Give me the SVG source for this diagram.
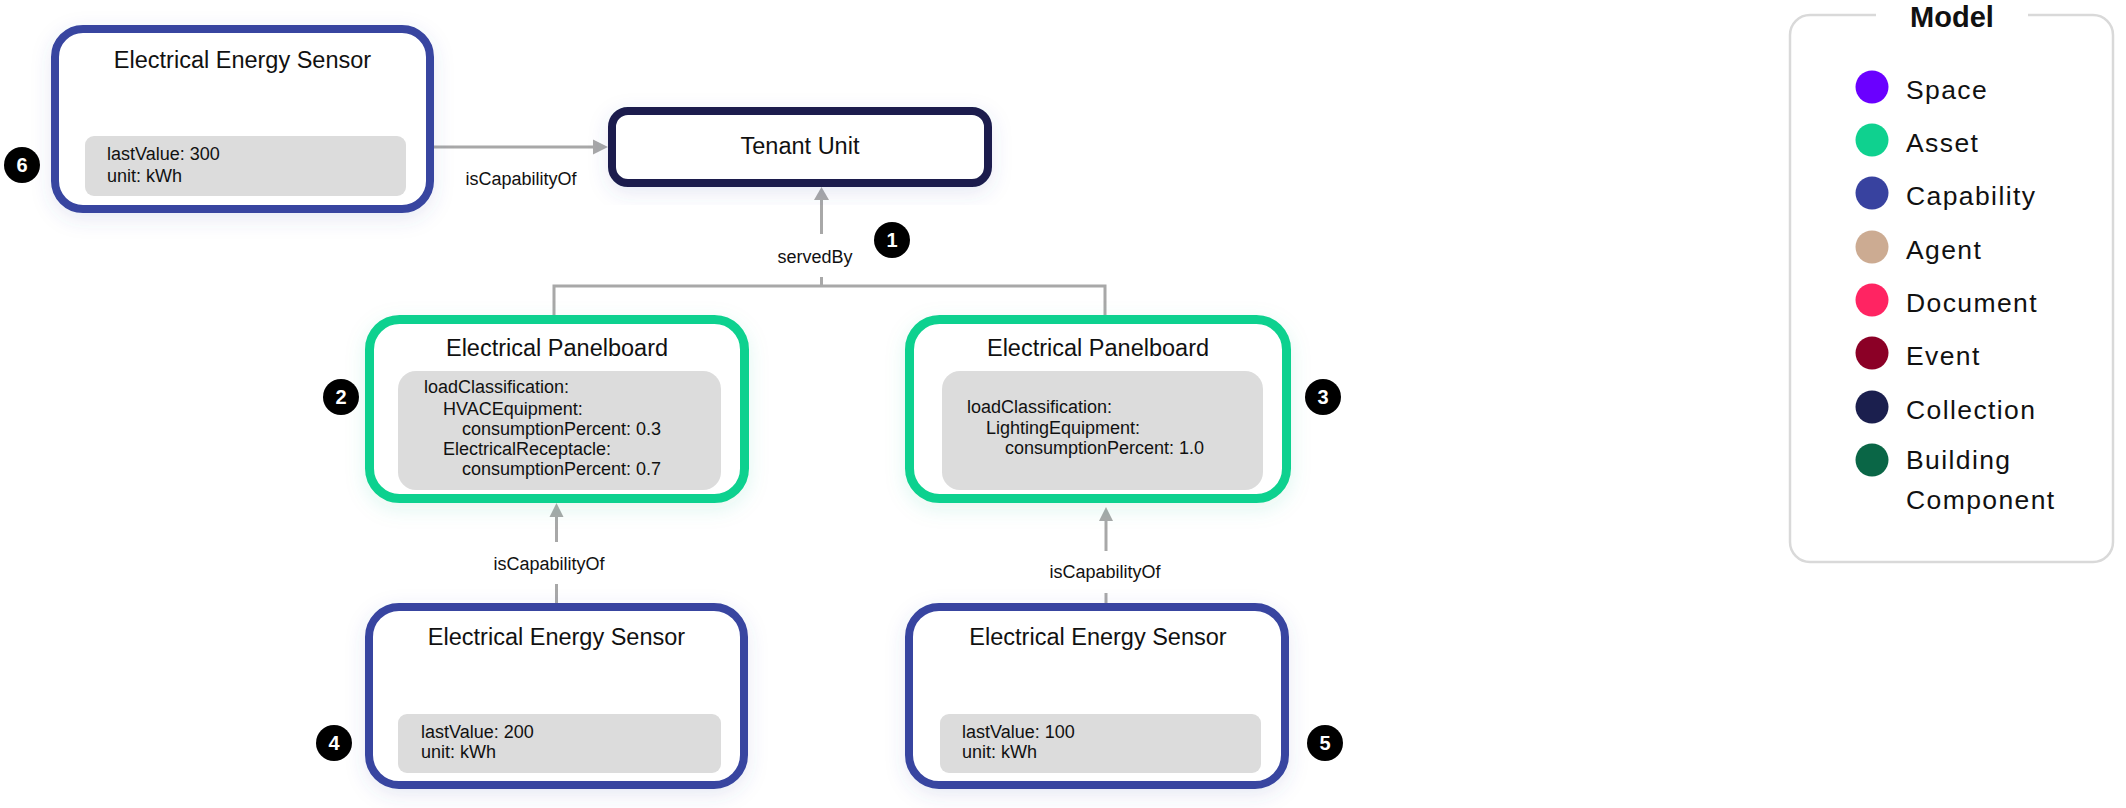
<svg xmlns="http://www.w3.org/2000/svg" width="2126" height="808" viewBox="0 0 2126 808">
<style>
  text { font-family: "Liberation Sans", Arial, sans-serif; fill: #111; }
  .title { font-size: 23.5px; text-anchor: middle; }
  .prop { font-size: 18px; }
  .lbl { font-size: 18px; text-anchor: middle; }
  .badge circle { fill: #000; }
  .badge text { fill: #fff; font-weight: bold; font-size: 20px; text-anchor: middle; }
  .cap { fill: #fff; stroke: #3845a0; stroke-width: 8; }
  .asset { fill: #fff; stroke: #0fd18f; stroke-width: 9; }
  .coll { fill: #fff; stroke: #1b1f4e; stroke-width: 8; }
  .box { fill: #dcdcdc; }
  .conn { stroke: #a8a8a8; stroke-width: 3; fill: none; }
  .head { fill: #a8a8a8; }
  .leg { font-size: 26.5px; letter-spacing: 1.4px; }
</style>
<defs>
  <filter id="shB" x="-20%" y="-30%" width="140%" height="160%">
    <feDropShadow dx="0" dy="6" stdDeviation="10" flood-color="#4050a8" flood-opacity="0.13"/>
  </filter>
  <filter id="shG" x="-20%" y="-30%" width="140%" height="160%">
    <feDropShadow dx="0" dy="6" stdDeviation="10" flood-color="#20c090" flood-opacity="0.13"/>
  </filter>
</defs>
<rect width="2126" height="808" fill="#fff"/>

<g id="connectors">
  <!-- node6 -> tenant -->
  <line class="conn" x1="434" y1="147" x2="594" y2="147"/>
  <polygon class="head" points="593,139.5 608,147 593,154.5"/>
  <text class="lbl" x="521" y="185">isCapabilityOf</text>
  <!-- servedBy -->
  <path class="conn" d="M554,315 V286 H1105 V315"/>
  <line class="conn" x1="821.5" y1="286" x2="821.5" y2="277"/>
  <line class="conn" x1="821.5" y1="234" x2="821.5" y2="199"/>
  <polygon class="head" points="814,200 821.5,187 829,200"/>
  <text class="lbl" x="815" y="263">servedBy</text>
  <!-- sensor4 -> panel1 -->
  <line class="conn" x1="556.5" y1="607" x2="556.5" y2="584"/>
  <line class="conn" x1="556.5" y1="542" x2="556.5" y2="516"/>
  <polygon class="head" points="549.5,517 556.5,503 563.5,517"/>
  <text class="lbl" x="549" y="570">isCapabilityOf</text>
  <!-- sensor5 -> panel2 -->
  <line class="conn" x1="1106" y1="607" x2="1106" y2="593"/>
  <line class="conn" x1="1106" y1="551" x2="1106" y2="520"/>
  <polygon class="head" points="1099,521 1106,507 1113,521"/>
  <text class="lbl" x="1105" y="578">isCapabilityOf</text>
</g>

<g id="node6">
  <rect class="cap" x="55" y="29" width="375" height="180" rx="28" filter="url(#shB)"/>
  <text class="title" x="242.5" y="68">Electrical Energy Sensor</text>
  <rect class="box" x="85" y="136" width="321" height="60" rx="9"/>
  <text class="prop" x="107" y="160">lastValue: 300</text>
  <text class="prop" x="107" y="182">unit: kWh</text>
</g>

<g id="tenant">
  <rect class="coll" x="612" y="111" width="376" height="72" rx="16" filter="url(#shB)"/>
  <text class="title" x="800" y="154">Tenant Unit</text>
</g>

<g id="panel1">
  <rect class="asset" x="369.5" y="319.5" width="375" height="179" rx="30" filter="url(#shG)"/>
  <text class="title" x="557" y="356">Electrical Panelboard</text>
  <rect class="box" x="398" y="371" width="323" height="119" rx="18"/>
  <text class="prop" x="424" y="393">loadClassification:</text>
  <text class="prop" x="443" y="415">HVACEquipment:</text>
  <text class="prop" x="462" y="435">consumptionPercent: 0.3</text>
  <text class="prop" x="443" y="455">ElectricalReceptacle:</text>
  <text class="prop" x="462" y="475">consumptionPercent: 0.7</text>
</g>

<g id="panel2">
  <rect class="asset" x="909.5" y="319.5" width="377" height="179" rx="30" filter="url(#shG)"/>
  <text class="title" x="1098" y="356">Electrical Panelboard</text>
  <rect class="box" x="942" y="371" width="321" height="119" rx="18"/>
  <text class="prop" x="967" y="413">loadClassification:</text>
  <text class="prop" x="986" y="434">LightingEquipment:</text>
  <text class="prop" x="1005" y="454">consumptionPercent: 1.0</text>
</g>

<g id="sensor4">
  <rect class="cap" x="369" y="607" width="375" height="178" rx="30" filter="url(#shB)"/>
  <text class="title" x="556.5" y="645">Electrical Energy Sensor</text>
  <rect class="box" x="398" y="714" width="323" height="59" rx="9"/>
  <text class="prop" x="421" y="738">lastValue: 200</text>
  <text class="prop" x="421" y="758">unit: kWh</text>
</g>

<g id="sensor5">
  <rect class="cap" x="909" y="607" width="376" height="178" rx="30" filter="url(#shB)"/>
  <text class="title" x="1098" y="645">Electrical Energy Sensor</text>
  <rect class="box" x="940" y="714" width="321" height="59" rx="9"/>
  <text class="prop" x="962" y="738">lastValue: 100</text>
  <text class="prop" x="962" y="758">unit: kWh</text>
</g>

<g id="badges">
  <g class="badge"><circle cx="22" cy="165" r="18"/><text x="22" y="172">6</text></g>
  <g class="badge"><circle cx="892" cy="240" r="18"/><text x="892" y="247">1</text></g>
  <g class="badge"><circle cx="341" cy="397" r="18"/><text x="341" y="404">2</text></g>
  <g class="badge"><circle cx="1323" cy="397" r="18"/><text x="1323" y="404">3</text></g>
  <g class="badge"><circle cx="334" cy="743" r="18"/><text x="334" y="750">4</text></g>
  <g class="badge"><circle cx="1325" cy="743" r="18"/><text x="1325" y="750">5</text></g>
</g>

<g id="legend">
  <path d="M1876,15 H1810 A20,20 0 0 0 1790,35 V542 A20,20 0 0 0 1810,562 H2093 A20,20 0 0 0 2113,542 V35 A20,20 0 0 0 2093,15 H2028" fill="none" stroke="#d9d9d9" stroke-width="2.5"/>
  <text x="1952" y="27" font-size="29" font-weight="bold" text-anchor="middle">Model</text>
  <circle cx="1872" cy="87" r="16.5" fill="#6a00ff"/>
  <text class="leg" x="1906" y="99">Space</text>
  <circle cx="1872" cy="140" r="16.5" fill="#0fd18f"/>
  <text class="leg" x="1906" y="152">Asset</text>
  <circle cx="1872" cy="193" r="16.5" fill="#38429f"/>
  <text class="leg" x="1906" y="205">Capability</text>
  <circle cx="1872" cy="247" r="16.5" fill="#ccab92"/>
  <text class="leg" x="1906" y="259">Agent</text>
  <circle cx="1872" cy="300" r="16.5" fill="#ff2462"/>
  <text class="leg" x="1906" y="312">Document</text>
  <circle cx="1872" cy="353" r="16.5" fill="#8b0026"/>
  <text class="leg" x="1906" y="365">Event</text>
  <circle cx="1872" cy="407" r="16.5" fill="#1b1f4e"/>
  <text class="leg" x="1906" y="419">Collection</text>
  <circle cx="1872" cy="460" r="16.5" fill="#0a6646"/>
  <text class="leg" x="1906" y="469">Building</text>
  <text class="leg" x="1906" y="509">Component</text>
</g>
</svg>
